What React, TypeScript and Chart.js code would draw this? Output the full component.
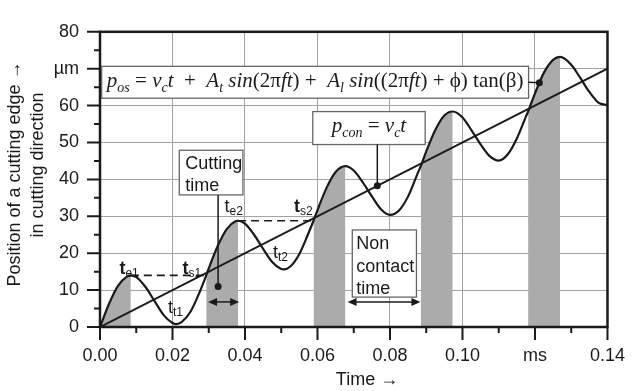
import React, { useEffect, useRef } from 'react';
import { Chart, registerables } from 'chart.js';

Chart.register(...registerables);

// Oscillating cutting-edge position p_os (time in ms, position in µm)
const curveTime = [
  0, 0.0025, 0.005, 0.0075, 0.0085, 0.01, 0.0125, 0.015, 0.0175, 0.02, 0.021, 0.0225, 0.025, 0.0275,
  0.0293, 0.03, 0.0325, 0.035, 0.0375, 0.0381, 0.04, 0.0425, 0.045, 0.0475, 0.05, 0.0507, 0.0525,
  0.055, 0.0575, 0.0589, 0.06, 0.0625, 0.065, 0.0677, 0.07, 0.0725, 0.075, 0.0775, 0.08, 0.0825,
  0.085, 0.0875, 0.0885, 0.09, 0.0925, 0.095, 0.0973, 0.1, 0.1025, 0.105, 0.1075, 0.11, 0.1125,
  0.115, 0.1175, 0.1181, 0.12, 0.1225, 0.125, 0.1269, 0.13, 0.1325, 0.135, 0.1375, 0.14,
];
const curvePos = [
  0, 6.3, 11.2, 13.7, 14.0, 13.5, 10.9, 7.1, 3.3, 1.1, 0.8, 1.3, 4.2, 9.5,
  14.0, 15.9, 22.0, 26.6, 28.7, 28.8, 28.0, 25.0, 21.2, 17.6, 15.7, 15.6, 16.4,
  19.8, 25.4, 28.8, 31.7, 37.7, 42.0, 43.6, 42.4, 39.2, 35.4, 31.9, 30.4, 31.6,
  35.4, 41.3, 43.6, 47.6, 53.4, 57.3, 58.4, 56.8, 53.3, 49.5, 46.3, 45.1, 46.8,
  51.1, 57.0, 58.4, 63.3, 69.0, 72.4, 73.2, 71.1, 67.5, 63.7, 60.8, 60.1,
];

// Contact line p_con = v_c t
const lineTime = [0, 0.14];
const linePos = [0, 70];

// Cutting intervals (t_s .. t_e)
const cutStart = [0, 0.0293, 0.0589, 0.0885, 0.1181];
const cutEnd = [0.0085, 0.0381, 0.0677, 0.0973, 0.1269];

// Dashed level lines from t_e to t_s
const dashFrom = [0.0085, 0.0381];
const dashTo = [0.0293, 0.0589];
const dashLevel = [14.0, 28.8];

const xTickValues = [0, 0.02, 0.04, 0.06, 0.08, 0.1, 0.12, 0.14];
const xTickLabels = ['0.00', '0.02', '0.04', '0.06', '0.08', '0.10', 'ms', '0.14'];
const xMinorValues = [0.01, 0.03, 0.05, 0.07, 0.09, 0.11, 0.13];
const yTickValues = [0, 10, 20, 30, 40, 50, 60, 70, 80];
const yTickLabels = ['0', '10', '20', '30', '40', '50', '60', 'µm', '80'];
const yMinorValues = [5, 15, 25, 35, 45, 55, 65, 75];

const SANS = '"Liberation Sans", Arial, sans-serif';
const SERIF = '"Liberation Serif", "DejaVu Serif", serif';
const INK = '#1a1a1a';

type Seg = { t: string; f: string; dy?: number };

function richWidth(ctx: CanvasRenderingContext2D, segs: Seg[]) {
  let w = 0;
  for (const s of segs) {
    ctx.font = s.f;
    w += ctx.measureText(s.t).width;
  }
  return w;
}
function drawRich(ctx: CanvasRenderingContext2D, segs: Seg[], x: number, y: number) {
  let cx = x;
  for (const s of segs) {
    ctx.font = s.f;
    ctx.fillText(s.t, cx, y + (s.dy || 0));
    cx += ctx.measureText(s.t).width;
  }
}

const FS = 21;
const I = `italic ${FS}px ${SERIF}`;
const U = `${FS}px ${SERIF}`;
const S = `italic 14px ${SERIF}`;
const formulaSegs: Seg[] = [
  { t: 'p', f: I }, { t: 'os', f: S, dy: 5 }, { t: ' = ', f: U },
  { t: 'v', f: I }, { t: 'c', f: S, dy: 5 }, { t: 't', f: I }, { t: '  +  ', f: U },
  { t: 'A', f: I }, { t: 't', f: S, dy: 5 }, { t: ' sin', f: I }, { t: '(2π', f: U }, { t: 'ft', f: I },
  { t: ') +  ', f: U },
  { t: 'A', f: I }, { t: 'l', f: S, dy: 5 }, { t: ' sin', f: I }, { t: '((2π', f: U }, { t: 'ft', f: I },
  { t: ') + ϕ) tan(β)', f: U },
];
const pconSegs: Seg[] = [
  { t: 'p', f: I }, { t: 'con', f: S, dy: 5 }, { t: ' = ', f: U },
  { t: 'v', f: I }, { t: 'c', f: S, dy: 5 }, { t: 't', f: I },
];

// time labels: [sub, time, position, bold]
const tLabels: [string, number, number, boolean][] = [
  ['e1', 0.00535, 14.4, true],
  ['s1', 0.02275, 14.4, true],
  ['t1', 0.01874, 3.8, false],
  ['e2', 0.03434, 31.3, false],
  ['s2', 0.05354, 31.3, true],
  ['t2', 0.04773, 18.8, false],
];

const annotPlugin = {
  id: 'annot',
  afterDraw(chart: any) {
    const ctx: CanvasRenderingContext2D = chart.ctx;
    const a = chart.chartArea;
    const X = (v: number) => chart.scales.x.getPixelForValue(v);
    const Y = (v: number) => chart.scales.y.getPixelForValue(v);
    ctx.save();

    // frame
    ctx.strokeStyle = INK;
    ctx.lineWidth = 2.5;
    ctx.strokeRect(a.left, a.top, a.right - a.left, a.bottom - a.top);

    // ticks
    ctx.lineWidth = 2;
    ctx.beginPath();
    for (const v of yTickValues) { ctx.moveTo(a.left - 13, Y(v)); ctx.lineTo(a.left, Y(v)); }
    for (const v of yMinorValues) { ctx.moveTo(a.left - 6, Y(v)); ctx.lineTo(a.left, Y(v)); }
    for (const v of xTickValues) { ctx.moveTo(X(v), a.bottom); ctx.lineTo(X(v), a.bottom + 13); }
    for (const v of xMinorValues) { ctx.moveTo(X(v), a.bottom); ctx.lineTo(X(v), a.bottom + 6); }
    ctx.stroke();

    const box = (x0: number, y0: number, x1: number, y1: number) => {
      const l = X(x0), r = X(x1), t = Y(y0), b = Y(y1);
      ctx.fillStyle = '#fff';
      ctx.fillRect(l, t, r - l, b - t);
      ctx.strokeStyle = '#666';
      ctx.lineWidth = 1.3;
      ctx.strokeRect(l, t, r - l, b - t);
      return { l, r, t, b };
    };
    const dot = (x: number, y: number) => {
      ctx.fillStyle = INK;
      ctx.beginPath();
      ctx.arc(X(x), Y(y), 3.5, 0, Math.PI * 2);
      ctx.fill();
    };
    const seg = (x0: number, y0: number, x1: number, y1: number) => {
      ctx.strokeStyle = INK;
      ctx.lineWidth = 1.5;
      ctx.beginPath();
      ctx.moveTo(x0, y0);
      ctx.lineTo(x1, y1);
      ctx.stroke();
    };
    const dblArrow = (t0: number, t1: number, yv: number) => {
      const l = X(t0), r = X(t1), y = Y(yv);
      seg(l + 4, y, r - 4, y);
      ctx.fillStyle = INK;
      ctx.beginPath();
      ctx.moveTo(l, y); ctx.lineTo(l + 9, y - 4); ctx.lineTo(l + 9, y + 4); ctx.closePath();
      ctx.moveTo(r, y); ctx.lineTo(r - 9, y - 4); ctx.lineTo(r - 9, y + 4); ctx.closePath();
      ctx.fill();
    };

    // formula box
    const fb = box(0.00046, 70.65, 0.11823, 62.0);
    ctx.fillStyle = INK;
    ctx.textBaseline = 'alphabetic';
    ctx.textAlign = 'left';
    const fw = richWidth(ctx, formulaSegs);
    drawRich(ctx, formulaSegs, (fb.l + fb.r) / 2 - fw / 2, (fb.t + fb.b) / 2 + 5);
    seg(fb.r, (fb.t + fb.b) / 2, X(0.1212), Y(66.2));
    dot(0.1212, 66.2);

    // p_con box
    const pb = box(0.0587, 58.38, 0.0897, 49.45);
    ctx.fillStyle = INK;
    const pw = richWidth(ctx, pconSegs);
    drawRich(ctx, pconSegs, (pb.l + pb.r) / 2 - pw / 2, (pb.t + pb.b) / 2 + 4);
    seg(X(0.0765), pb.b, X(0.0765), Y(38.25));
    dot(0.0765, 38.25);

    // Cutting time box
    const cb = box(0.02187, 47.9, 0.03943, 35.8);
    ctx.fillStyle = INK;
    ctx.font = `18px ${SANS}`;
    ctx.fillText('Cutting', cb.l + 6, cb.t + 19);
    ctx.fillText('time', cb.l + 6, cb.t + 40.5);
    seg(X(0.03258), cb.b, X(0.03258), Y(11.0));
    dot(0.03258, 11.0);
    dblArrow(cutStart[1] + 0.0005, cutEnd[1] + 0.0003, 6.8);

    // Non contact time box
    const nb = box(0.0696, 26.3, 0.0873, 8.1);
    ctx.fillStyle = INK;
    ctx.font = `18px ${SANS}`;
    ctx.fillText('Non', nb.l + 4, nb.t + 19);
    ctx.fillText('contact', nb.l + 4, nb.t + 42);
    ctx.fillText('time', nb.l + 4, nb.t + 64);
    dblArrow(cutEnd[2] + 0.0006, cutStart[3] - 0.0001, 6.8);

    // t labels
    for (const [sub, tx, ty, bold] of tLabels) {
      const x = X(tx), y = Y(ty);
      ctx.fillStyle = INK;
      ctx.font = `${bold ? 'bold ' : ''}18px ${SANS}`;
      ctx.fillText('t', x, y);
      const w = ctx.measureText('t').width;
      ctx.font = `12px ${SANS}`;
      ctx.fillText(sub, x + w, y + 3);
    }

    // axis titles
    ctx.fillStyle = INK;
    ctx.font = `18px ${SANS}`;
    ctx.textAlign = 'center';
    ctx.textBaseline = 'middle';
    ctx.save();
    ctx.translate(15, 174);
    ctx.rotate(-Math.PI / 2);
    ctx.fillText('Position of a cutting edge →', 0, 0);
    ctx.restore();
    ctx.save();
    ctx.translate(38, 165);
    ctx.rotate(-Math.PI / 2);
    ctx.fillText('in cutting direction', 0, 0);
    ctx.restore();
    ctx.fillText('Time →', 367, 380);

    ctx.restore();
  },
};

export default function App() {
  const ref = useRef<HTMLCanvasElement>(null);
  useEffect(() => {
    document.body.style.margin = '0';
    const curve = curveTime.map((t, i) => ({ x: t, y: curvePos[i] }));
    const bandSets = cutStart.map((s, i) => ({
      data: curve.filter((p) => p.x >= s - 1e-9 && p.x <= cutEnd[i] + 1e-9),
      borderWidth: 0,
      pointRadius: 0,
      fill: 'origin',
      backgroundColor: '#ababab',
      cubicInterpolationMode: 'monotone',
    }));
    const dashSets = dashFrom.map((f, i) => ({
      data: [{ x: f, y: dashLevel[i] }, { x: dashTo[i], y: dashLevel[i] }],
      borderColor: INK,
      borderWidth: 1.6,
      borderDash: [8, 5],
      pointRadius: 0,
      fill: false,
    }));
    const chart = new Chart(ref.current!, {
      type: 'line',
      data: {
        datasets: [
          {
            data: curve,
            borderColor: INK,
            borderWidth: 2.2,
            pointRadius: 0,
            fill: false,
            cubicInterpolationMode: 'monotone',
          },
          {
            data: lineTime.map((t, i) => ({ x: t, y: linePos[i] })),
            borderColor: INK,
            borderWidth: 2,
            pointRadius: 0,
            fill: false,
          },
          ...dashSets,
          ...bandSets,
        ] as any,
      },
      options: {
        responsive: false,
        animation: false,
        events: [],
        layout: { padding: { left: 0, top: 19, right: 20, bottom: 0 } },
        plugins: { legend: { display: false }, tooltip: { enabled: false } },
        scales: {
          x: {
            type: 'linear',
            min: 0,
            max: 0.14,
            afterBuildTicks: (s: any) => { s.ticks = xTickValues.map((v) => ({ value: v })); },
            afterFit: (s: any) => { s.height = 64; },
            grid: { color: '#a3a3a3', lineWidth: 1, drawTicks: false },
            border: { display: false },
            ticks: {
              padding: 18,
              color: INK,
              font: { family: SANS, size: 18 },
              maxRotation: 0,
              autoSkip: false,
              callback: (_v: any, i: number) => xTickLabels[i],
            },
          },
          y: {
            type: 'linear',
            min: 0,
            max: 80,
            afterBuildTicks: (s: any) => { s.ticks = yTickValues.map((v) => ({ value: v })); },
            afterFit: (s: any) => { s.width = 100; },
            grid: { color: '#a3a3a3', lineWidth: 1, drawTicks: false },
            border: { display: false },
            ticks: {
              padding: 21,
              color: INK,
              font: { family: SANS, size: 18 },
              autoSkip: false,
              callback: (_v: any, i: number) => yTickLabels[i],
            },
          },
        },
      },
      plugins: [annotPlugin],
    });
    return () => chart.destroy();
  }, []);
  return (
    <canvas
      ref={ref}
      width={643}
      height={391}
      style={{ display: 'block', position: 'absolute', left: 0, top: 0 }}
    />
  );
}
